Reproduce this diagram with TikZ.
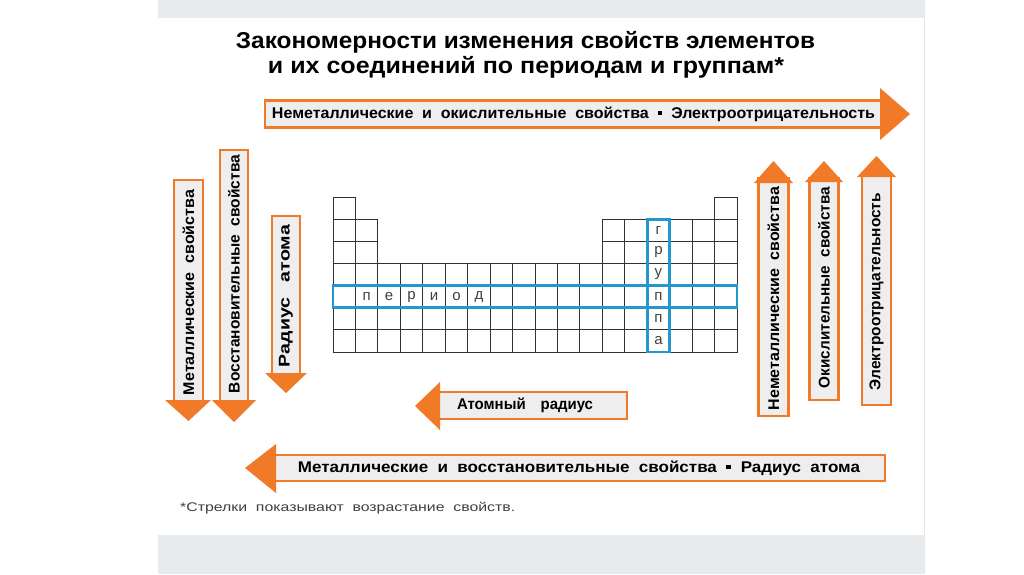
\documentclass[tikz,border=0pt]{standalone}
\usepackage{fontspec}
\setmainfont{Liberation Sans}
\usepackage{graphicx}
\definecolor{arrorange}{RGB}{240,122,40}
\definecolor{bodyfill}{RGB}{238,238,238}
\definecolor{bandgray}{RGB}{232,235,237}
\definecolor{hlblue}{RGB}{35,152,208}
\definecolor{gridgray}{RGB}{50,50,50}
\newcommand{\fitw}[2]{\resizebox{#1}{\height}{#2}}
\newcommand{\ws}{\hspace{0.55em}}
\newcommand{\sqbul}{\raisebox{0.18em}{\rule{0.3em}{0.3em}}}
\tikzset{
  abody/.style={draw=arrorange, line width=2.8pt, fill=bodyfill, inner sep=0pt},
  ahead/.style={fill=arrorange, draw=none},
  atext/.style={inner sep=0pt, font=\bfseries\fontsize{15.5}{15.5}\selectfont},
  cell/.style={draw=gridgray, line width=0.8pt},
  hl/.style={draw=hlblue, line width=2.8pt},
  letter/.style={font=\fontsize{15}{15}\selectfont, text=black!75, inner sep=0pt}
}
\begin{document}
\begin{tikzpicture}[x=1pt,y=-1pt]
\useasboundingbox (0,0) rectangle (1024,574);
\fill[white] (0,0) rectangle (1024,574);
% gray bands
\fill[bandgray] (158,0) rectangle (924,18);
\fill[bandgray] (158,535) rectangle (924,574);
\draw[black!10, line width=1pt] (924,0) -- (924,574);

% title
\node[anchor=base, inner sep=0pt, font=\bfseries\fontsize{23}{23}\selectfont] (t1) at (525.5,48) {\fitw{579pt}{Закономерности\ изменения\ свойств\ элементов}};
\node[anchor=base, inner sep=0pt, font=\bfseries\fontsize{23}{23}\selectfont] (t2) at (526,73) {\fitw{516pt}{и\ их\ соединений\ по\ периодам\ и\ группам*}};

% top arrow
\node[abody, minimum width=620, minimum height=27] (top) at (575,114) {};
\fill[ahead] (880,88) -- (910,114) -- (880,140) -- cycle;
\node[atext] (toptext) at (573.5,114) {\fitw{603pt}{Неметаллические\ws и\ws окислительные\ws свойства\ws \sqbul\ws Электроотрицательность}};

% left arrows (down)
\node[abody, rotate=90, minimum width=225, minimum height=29] (l1) at (188.5,292.5) {};
\fill[ahead] (165,400) -- (211,400) -- (188.5,421) -- cycle;
\node[atext, rotate=90] (l1t) at (188.5,292.5) {\fitw{205pt}{Металлические\ws свойства}};

\node[abody, rotate=90, minimum width=255, minimum height=28] (l2) at (234,277.5) {};
\fill[ahead] (212,400) -- (256,400) -- (234,422) -- cycle;
\node[atext, rotate=90] (l2t) at (234,274) {\fitw{238pt}{Восстановительные\ws свойства}};

\node[abody, rotate=90, minimum width=162, minimum height=28] (l3) at (286,297) {};
\fill[ahead] (265,373) -- (307,373) -- (286,393) -- cycle;
\node[atext, rotate=90] (l3t) at (286,296) {\fitw{142pt}{Радиус\hspace{0.8em}атома}};

% right arrows (up)
\node[abody, rotate=90, minimum width=238, minimum height=30] (r1) at (773.5,297) {};
\fill[ahead] (754,183) -- (793,183) -- (773.5,161) -- cycle;
\node[atext, rotate=90] (r1t) at (773.5,298.5) {\fitw{223pt}{Неметаллические\ws свойства}};

\node[abody, rotate=90, minimum width=222, minimum height=29] (r2) at (824,289) {};
\fill[ahead] (805,182) -- (843,182) -- (824,161) -- cycle;
\node[atext, rotate=90] (r2t) at (824,287.5) {\fitw{201pt}{Окислительные\ws свойства}};

\node[abody, rotate=90, minimum width=232, minimum height=29] (r3) at (876.5,289) {};
\fill[ahead] (857,177) -- (896,177) -- (876.5,156) -- cycle;
\node[atext, rotate=90] (r3t) at (876.5,291.5) {\fitw{197pt}{Электроотрицательность}};

% atomic radius arrow (left)
\node[abody, minimum width=194, minimum height=27] (ar) at (530,405.5) {};
\fill[ahead] (440,382) -- (415,406) -- (440,430) -- cycle;
\node[atext] (art) at (525,405.5) {\fitw{136pt}{Атомный\hspace{1em}радиус}};

% bottom arrow (left)
\node[abody, minimum width=615, minimum height=26] (bot) at (577.5,468) {};
\fill[ahead] (276,444) -- (245,468) -- (276,493) -- cycle;
\node[atext] (bott) at (579,468) {\fitw{562pt}{Металлические\ws и\ws восстановительные\ws свойства\ws \sqbul\ws Радиус\ws атома}};

% footnote
\node[anchor=base west, inner sep=0pt, text=black!75, font=\fontsize{12.5}{12.5}\selectfont] (fn) at (180,511) {\fitw{335pt}{*Стрелки\ws показывают\ws возрастание\ws свойств.}};

% periodic table grid
\def\cw{22.444}
\def\ch{22.143}
\def\xo{333}
\def\yo{197}
% row 1
\foreach \c in {1,18} {
  \draw[cell] ({\xo+(\c-1)*\cw},{\yo}) rectangle ({\xo+\c*\cw},{\yo+\ch});
}
% rows 2-3
\foreach \r in {2,3} {
  \foreach \c in {1,2,13,14,15,16,17,18} {
    \draw[cell] ({\xo+(\c-1)*\cw},{\yo+(\r-1)*\ch}) rectangle ({\xo+\c*\cw},{\yo+\r*\ch});
  }
}
% rows 4-7
\foreach \r in {4,...,7} {
  \foreach \c in {1,...,18} {
    \draw[cell] ({\xo+(\c-1)*\cw},{\yo+(\r-1)*\ch}) rectangle ({\xo+\c*\cw},{\yo+\r*\ch});
  }
}
% highlights
\draw[hl] ({\xo},{\yo+4*\ch}) rectangle ({\xo+18*\cw},{\yo+5*\ch});
\draw[hl] ({\xo+14*\cw},{\yo+1*\ch}) rectangle ({\xo+15*\cw},{\yo+7*\ch});
% period letters
\foreach \L [count=\i] in {п,е,р,и,о,д} {
  \node[letter] (p\i) at ({\xo+(\i+0.5)*\cw},{\yo+4.5*\ch}) {\L};
}
% group letters
\foreach \L [count=\i] in {г,р,у,п,п,а} {
  \node[letter] (g\i) at ({\xo+14.5*\cw},{\yo+(\i+0.5)*\ch}) {\L};
}
\end{tikzpicture}
\end{document}
